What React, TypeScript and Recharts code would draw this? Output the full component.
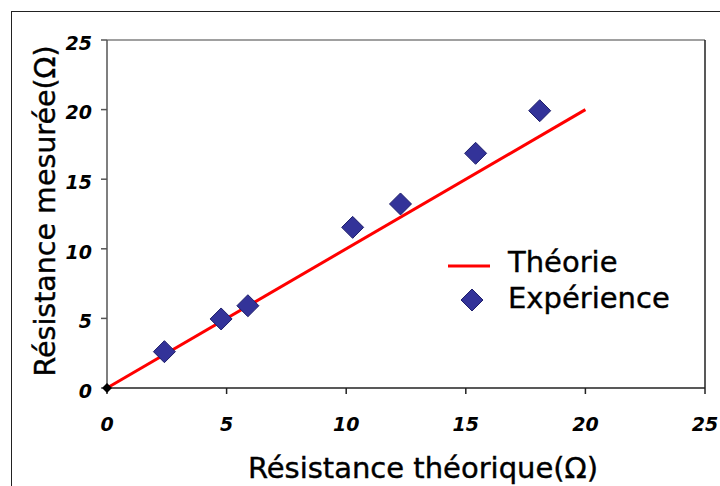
import React from 'react';
import { ScatterChart, Scatter, XAxis, YAxis, Legend, Label, ReferenceLine } from 'recharts';

const xTicks = [0, 5, 10, 15, 20, 25];
const yTicks = [0, 5, 10, 15, 20, 25];
const theorieX = [0, 20];
const theorieY = [0, 20];
const experienceX = [2.4, 4.77, 5.89, 10.27, 12.27, 15.41, 18.09];
const experienceY = [2.61, 4.96, 5.91, 11.54, 13.22, 16.86, 19.92];
const originX = [0];
const originY = [0];

const theorie = theorieX.map((x, i) => ({ x, y: theorieY[i] }));
const experience = experienceX.map((x, i) => ({ x, y: experienceY[i] }));
const origin = originX.map((x, i) => ({ x, y: originY[i] }));

const FONT = '"DejaVu Sans", sans-serif';
const BLUE = '#333399';
const BLUE_STROKE = '#1f1f6b';
const RED = '#ff0000';

const Diamond = (props: any) => {
  const { cx, cy } = props;
  const r = 11;
  return (
    <polygon
      points={`${cx},${cy - r} ${cx + r},${cy} ${cx},${cy + r} ${cx - r},${cy}`}
      fill={BLUE}
      stroke={BLUE_STROKE}
      strokeWidth={1}
    />
  );
};

const SmallDiamond = (props: any) => {
  const { cx, cy } = props;
  const r = 5;
  return (
    <polygon
      points={`${cx},${cy - r} ${cx + r},${cy} ${cx},${cy + r} ${cx - r},${cy}`}
      fill="#000"
    />
  );
};

const Empty = () => <g />;

const LegendContent = () => (
  <div style={{ fontFamily: FONT, fontSize: 29, color: '#000', lineHeight: '36px', WebkitTextStroke: '0.4px #000' }}>
    <div style={{ display: 'flex', alignItems: 'center' }}>
      <svg width={68} height={36}>
        <line x1={8} y1={22} x2={50} y2={22} stroke={RED} strokeWidth={3} />
      </svg>
      <span>Théorie</span>
    </div>
    <div style={{ display: 'flex', alignItems: 'center' }}>
      <svg width={68} height={36}>
        <polygon points="32,9 43,20 32,31 21,20" fill={BLUE} stroke={BLUE_STROKE} strokeWidth={1} />
      </svg>
      <span>Expérience</span>
    </div>
  </div>
);

const tickStyle = { fontFamily: FONT, fontSize: 19, fontStyle: 'italic', fontWeight: 'bold', fill: '#000' };

export default function App() {
  return (
    <div style={{ position: 'fixed', left: 0, top: 0, width: 720, height: 486, background: '#fff' }}>
      <div
        style={{
          position: 'absolute',
          left: 11,
          top: 11,
          width: 709,
          height: 475,
          borderTop: '1.5px solid #222',
          borderLeft: '1.5px solid #222',
          boxSizing: 'border-box',
        }}
      />
      <div style={{ position: 'absolute', left: 0, top: 0 }}>
        <ScatterChart width={720} height={486} margin={{ top: 40, right: 15, bottom: 48, left: 47 }}>
          <XAxis
            type="number"
            dataKey="x"
            domain={[0, 25]}
            ticks={xTicks}
            interval={0}
            height={50}
            axisLine={{ stroke: '#222', strokeWidth: 1.5 }}
            tickLine={{ stroke: '#222', strokeWidth: 1.5 }}
            tickSize={6}
            tickMargin={24}
            tick={tickStyle}
          >
            <Label
              content={(p: any) => {
                const vb = p.viewBox;
                return (
                  <text
                    x={423}
                    y={vb.y + 90}
                    textAnchor="middle"
                    fontFamily={FONT}
                    fontSize={29}
                    fill="#000"
                    stroke="#000"
                    strokeWidth={0.4}
                  >
                    Résistance théorique(Ω)
                  </text>
                );
              }}
            />
          </XAxis>
          <YAxis
            type="number"
            dataKey="y"
            domain={[0, 25]}
            ticks={yTicks}
            interval={0}
            width={60}
            axisLine={{ stroke: '#555', strokeWidth: 1.5 }}
            tickLine={{ stroke: '#555', strokeWidth: 1.5 }}
            tickSize={6}
            tickMargin={9}
            tick={{ ...tickStyle, dy: 3 }}
          >
            <Label
              content={(p: any) => {
                const vb = p.viewBox;
                const cx = 45;
                const cy = vb.y + vb.height / 2 - 3;
                return (
                  <text
                    x={cx}
                    y={cy}
                    transform={`rotate(-90, ${cx}, ${cy})`}
                    textAnchor="middle"
                    dominantBaseline="central"
                    fontFamily={FONT}
                    fontSize={28.5}
                    fill="#000"
                    stroke="#000"
                    strokeWidth={0.4}
                  >
                    Résistance mesurée(Ω)
                  </text>
                );
              }}
            />
          </YAxis>
          <ReferenceLine y={25} stroke="#808080" strokeWidth={1.5} />
          <ReferenceLine x={25} stroke="#222" strokeWidth={1.5} />
          <Legend
            layout="vertical"
            verticalAlign="middle"
            align="center"
            wrapperStyle={{ left: 440, top: 244, width: 270 }}
            content={LegendContent}
          />
          <Scatter
            name="Théorie"
            data={theorie}
            line={{ stroke: RED, strokeWidth: 3 }}
            lineType="joint"
            shape={Empty}
            isAnimationActive={false}
          />
          <Scatter
            name="Expérience"
            data={experience}
            shape={Diamond}
            isAnimationActive={false}
          />
          <Scatter
            name="origin"
            data={origin}
            shape={SmallDiamond}
            legendType="none"
            isAnimationActive={false}
          />
        </ScatterChart>
      </div>
    </div>
  );
}
